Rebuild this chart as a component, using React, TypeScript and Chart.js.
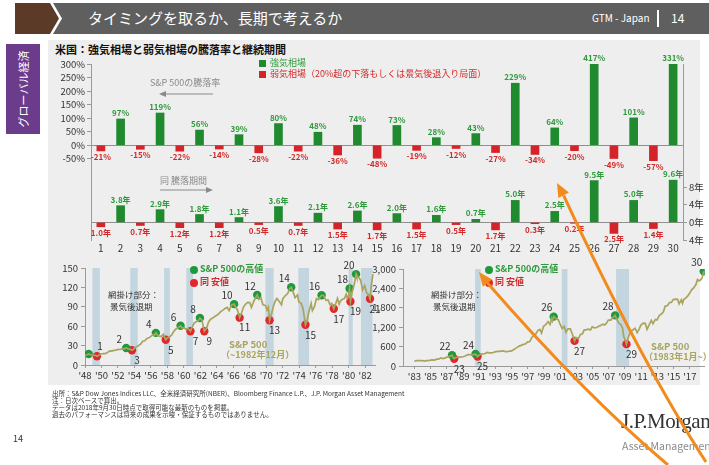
import React, { useEffect, useRef } from 'react';
import { Chart, registerables } from 'chart.js';
Chart.register(...registerables);

const FONT = '"Noto Sans CJK JP", "Noto Sans", sans-serif';
const GREEN = '#1f8a2e';
const RED = '#d4242a';
const GREEN_TXT = '#2e9a3b';
const RED_TXT = '#d22a2a';
const OLIVE = '#a9a45e';
const BAND = '#c3d5de';
const AXIS = '#9a9a9a';

// ---- Top panel data ----
const categories = ['1','2','3','4','5','6','7','8','9','10','11','12','13','14','15','16','17','18','19','20','21','22','23','24','25','26','27','28','29','30'];
const marketReturns = [-21, 97, -15, 119, -22, 56, -14, 39, -28, 80, -22, 48, -36, 74, -48, 73, -19, 28, -12, 43, -27, 229, -34, 64, -20, 417, -49, 101, -57, 331];
const marketDurations = [-1.0, 3.8, -0.7, 2.9, -1.2, 1.8, -1.2, 1.1, -0.5, 3.6, -0.7, 2.1, -1.5, 2.6, -1.7, 2.0, -1.5, 1.6, -0.5, 0.7, -1.7, 5.0, -0.3, 2.5, -0.2, 9.5, -2.5, 5.0, -1.4, 9.6];
const pctTicks = [-50, 0, 50, 100, 150, 200, 250, 300];
const yearTicks = [-4, 0, 4, 8];

// ---- Bottom panels data ----
const spx1948to1982: [number, number][] = [
  [1948.0,14.8],[1948.25,15.8],[1948.45,17.1],[1948.75,15.5],
  [1949.0,15.2],[1949.25,14.9],[1949.45,13.6],[1949.75,15.6],
  [1950.0,17.0],[1950.25,17.5],[1950.5,17.7],[1950.75,19.5],
  [1951.0,21.7],[1951.25,21.5],[1951.5,22.5],[1951.75,23.0],
  [1952.0,24.1],[1952.25,24.0],[1952.5,25.0],[1952.75,25.0],
  [1953.0,26.3],[1953.25,25.0],[1953.5,24.3],[1953.7,22.7],[1953.9,24.5],
  [1954.0,26.1],[1954.25,28.3],[1954.5,30.0],[1954.75,32.3],
  [1955.0,36.8],[1955.25,37.5],[1955.5,41.0],[1955.75,42.0],
  [1956.0,44.2],[1956.25,47.0],[1956.45,46.5],[1956.6,49.7],[1956.8,46.0],
  [1957.0,44.7],[1957.25,44.0],[1957.5,47.4],[1957.8,39.0],
  [1958.0,41.7],[1958.25,43.4],[1958.5,46.2],[1958.75,51.3],
  [1959.0,55.4],[1959.3,57.5],[1959.6,60.7],[1959.8,57.0],
  [1960.0,58.0],[1960.25,55.3],[1960.5,56.6],[1960.8,52.3],
  [1961.0,58.1],[1961.25,65.1],[1961.5,66.7],[1961.75,68.6],[1961.95,72.6],
  [1962.2,69.5],[1962.35,60.0],[1962.48,52.3],[1962.75,56.3],
  [1963.0,66.6],[1963.25,70.8],[1963.5,72.5],[1963.75,75.0],
  [1964.0,77.0],[1964.25,79.5],[1964.5,83.0],[1964.75,84.8],
  [1965.0,87.5],[1965.25,89.0],[1965.5,84.0],[1965.75,92.4],
  [1966.1,94.1],[1966.3,89.0],[1966.5,85.5],[1966.77,73.2],
  [1967.0,80.3],[1967.25,90.0],[1967.5,94.0],[1967.75,96.7],
  [1968.0,96.5],[1968.2,89.0],[1968.5,99.0],[1968.9,108.4],
  [1969.1,101.5],[1969.35,104.0],[1969.6,93.0],[1969.9,92.0],
  [1970.1,85.0],[1970.25,89.5],[1970.4,69.3],[1970.65,80.0],[1970.9,92.2],
  [1971.1,99.0],[1971.3,103.0],[1971.6,98.0],[1971.85,93.0],
  [1972.0,102.1],[1972.3,107.0],[1972.6,110.5],[1972.85,118.0],
  [1973.03,120.2],[1973.3,111.5],[1973.5,104.3],[1973.8,108.4],[1973.95,97.5],
  [1974.2,96.0],[1974.45,88.0],[1974.6,76.0],[1974.76,62.3],[1974.95,68.6],
  [1975.2,83.4],[1975.45,95.2],[1975.6,84.0],[1975.85,90.2],
  [1976.1,102.8],[1976.35,101.0],[1976.5,104.3],[1976.72,107.8],
  [1976.95,107.5],[1977.25,100.0],[1977.5,100.5],[1977.75,93.0],
  [1977.95,95.1],[1978.2,86.9],[1978.45,95.5],[1978.65,103.0],[1978.85,94.0],
  [1979.0,99.0],[1979.25,101.6],[1979.5,102.9],[1979.7,109.3],[1979.85,103.0],
  [1980.0,107.9],[1980.12,118.4],[1980.22,98.2],[1980.45,114.2],[1980.7,125.5],[1980.9,140.5],
  [1981.0,135.8],[1981.2,136.0],[1981.45,131.2],[1981.7,116.2],[1981.95,122.6],
  [1982.2,111.0],[1982.4,109.6],[1982.6,102.4],[1982.75,122.4],[1982.95,140.6]
];
const spx1983to2018: [number, number][] = [
  [1983.0,145.3],[1983.25,164.4],[1983.5,168.1],[1983.75,166.1],
  [1984.0,163.4],[1984.25,153.2],[1984.5,166.7],[1984.75,167.2],
  [1985.0,179.6],[1985.25,191.9],[1985.5,182.1],[1985.75,211.3],
  [1986.0,211.8],[1986.25,250.8],[1986.5,231.3],[1986.75,242.2],
  [1987.0,274.1],[1987.25,289.0],[1987.5,318.7],[1987.65,336.8],[1987.8,251.8],[1987.92,223.9],
  [1988.1,258.9],[1988.35,273.5],[1988.6,271.9],[1988.85,277.7],
  [1989.1,294.9],[1989.35,317.9],[1989.6,349.2],[1989.85,353.4],
  [1990.1,339.9],[1990.35,361.2],[1990.55,368.9],[1990.8,295.5],[1990.95,330.2],
  [1991.25,375.2],[1991.5,371.2],[1991.75,387.9],[1991.95,417.1],
  [1992.25,403.7],[1992.5,408.1],[1992.75,417.8],[1992.95,435.7],
  [1993.25,451.7],[1993.5,450.5],[1993.75,458.9],[1993.95,466.5],
  [1994.25,445.8],[1994.5,444.3],[1994.75,462.7],[1994.95,459.3],
  [1995.25,500.7],[1995.5,544.8],[1995.75,584.4],[1995.95,615.9],
  [1996.25,645.5],[1996.5,670.6],[1996.75,687.3],[1996.95,740.7],
  [1997.25,757.1],[1997.5,885.1],[1997.75,947.3],[1997.95,970.4],
  [1998.25,1101.8],[1998.5,1133.8],[1998.7,1017.0],[1998.95,1229.2],
  [1999.25,1286.4],[1999.5,1372.7],[1999.75,1282.7],[1999.95,1469.3],
  [2000.05,1394.5],[2000.2,1527.0],[2000.5,1454.6],[2000.75,1436.5],[2000.95,1320.3],
  [2001.25,1160.3],[2001.5,1224.4],[2001.72,1040.9],[2001.95,1148.1],
  [2002.25,1147.4],[2002.5,989.8],[2002.6,911.6],[2002.78,776.8],[2002.95,879.8],
  [2003.25,848.2],[2003.5,974.5],[2003.75,996.0],[2003.95,1111.9],
  [2004.25,1126.2],[2004.5,1140.8],[2004.75,1114.6],[2004.95,1211.9],
  [2005.25,1180.6],[2005.5,1191.3],[2005.75,1228.8],[2005.95,1248.3],
  [2006.25,1294.8],[2006.5,1270.2],[2006.75,1335.9],[2006.95,1418.3],
  [2007.25,1420.9],[2007.5,1503.4],[2007.65,1526.8],[2007.78,1565.0],[2007.95,1468.4],
  [2008.25,1322.7],[2008.5,1280.0],[2008.7,1166.4],[2008.85,903.3],
  [2009.0,825.9],[2009.18,676.5],[2009.45,919.3],[2009.7,1057.1],[2009.95,1115.1],
  [2010.25,1169.4],[2010.5,1030.7],[2010.75,1141.2],[2010.95,1257.6],
  [2011.25,1325.8],[2011.5,1320.6],[2011.72,1131.4],[2011.95,1257.6],
  [2012.25,1408.5],[2012.45,1310.0],[2012.75,1440.7],[2012.95,1426.2],
  [2013.25,1569.2],[2013.5,1606.3],[2013.75,1681.6],[2013.95,1848.4],
  [2014.25,1872.3],[2014.5,1960.2],[2014.75,1972.3],[2014.95,2058.9],
  [2015.25,2067.9],[2015.5,2063.1],[2015.68,1920.0],[2015.95,2043.9],
  [2016.1,1940.2],[2016.25,2059.7],[2016.5,2098.9],[2016.75,2168.3],[2016.95,2238.8],
  [2017.25,2362.7],[2017.5,2423.4],[2017.75,2519.4],[2017.95,2673.6],
  [2018.1,2640.9],[2018.25,2640.0],[2018.5,2718.4],[2018.72,2930.0]
];
const highsEarly: [number, number][] = [[1948.45,17.1],[1953.0,26.3],[1956.6,49.7],[1959.6,60.7],[1961.95,72.6],[1966.1,94.1],[1968.9,108.4],[1973.03,120.2],[1976.72,107.8],[1980.12,118.4],[1980.9,140.5]];
const highsEarlyLabels = ['', '2', '4', '6', '8', '10', '12', '14', '16', '18', '20'];
const lowsEarly: [number, number][] = [[1949.45,13.6],[1953.7,22.7],[1957.8,39.0],[1960.8,52.3],[1962.48,52.3],[1966.77,73.2],[1970.4,69.3],[1974.76,62.3],[1978.2,86.9],[1980.22,98.2],[1982.6,102.4]];
const lowsEarlyLabels = ['1', '3', '5', '7', '9', '11', '13', '15', '17', '19', '21'];
const highsLate: [number, number][] = [[1987.65,336.8],[1990.55,368.9],[2000.2,1527.0],[2007.78,1565.0],[2018.72,2930.0]];
const highsLateLabels = ['22', '24', '26', '28', '30'];
const lowsLate: [number, number][] = [[1987.92,223.9],[1990.8,295.5],[2002.78,776.8],[2009.18,676.5]];
const lowsLateLabels = ['23', '25', '27', '29'];
const recessionsEarly: [number, number][] = [[1948.9,1949.8],[1953.5,1954.4],[1957.6,1958.3],[1960.3,1961.1],[1969.9,1970.9],[1973.9,1975.2],[1980.0,1980.5],[1981.5,1982.9]];
const recessionsLate: [number, number][] = [[1990.5,1991.2],[2001.2,2001.9],[2007.9,2009.5]];
const yearTicksEarly = [1948,1950,1952,1954,1956,1958,1960,1962,1964,1966,1968,1970,1972,1974,1976,1978,1980,1982];
const yearTicksLate = [1983,1985,1987,1989,1991,1993,1995,1997,1999,2001,2003,2005,2007,2009,2011,2013,2015,2017];
const valueTicksEarly = [0, 30, 60, 90, 120, 150];
const valueTicksLate = [0, 600, 1200, 1800, 2400, 3000];

const footnotes = [
  '出所：S&P Dow Jones Indices LLC、全米経済研究所(NBER)、Bloomberg Finance L.P.、J.P. Morgan Asset Management',
  '注：日次ベースで算出。',
  'データは2018年9月30日時点で取得可能な最新のものを掲載。',
  '過去のパフォーマンスは将来の成果を示唆・保証するものではありません。',
];

const barLabelPlugin = {
  id: 'barLabels',
  afterDatasetsDraw(chart: any) {
    const ctx = chart.ctx;
    const area = chart.chartArea;
    chart.data.datasets.forEach((ds: any, di: number) => {
      const meta = chart.getDatasetMeta(di);
      const isPct = ds.yAxisID === 'y';
      meta.data.forEach((el: any, i: number) => {
        const v = ds.data[i];
        if (v == null) return;
        const txt = isPct ? `${v}%` : `${Math.abs(v).toFixed(1)}年`;
        ctx.save();
        ctx.font = `bold 8px ${FONT}`;
        ctx.textAlign = 'center';
        if (v >= 0) {
          ctx.fillStyle = GREEN_TXT;
          ctx.textBaseline = 'bottom';
          ctx.fillText(txt, el.x, Math.max(el.y, area.top) - 2);
        } else {
          ctx.fillStyle = RED_TXT;
          ctx.textBaseline = 'top';
          ctx.fillText(txt, el.x, el.y + 2);
        }
        ctx.restore();
      });
    });
  },
};

const zeroGrid = (c: any) => (c.tick && c.tick.value === 0 ? '#8f8f8f' : 'rgba(0,0,0,0)');

function TopChart() {
  const ref = useRef<HTMLCanvasElement>(null);
  useEffect(() => {
    const common = { grouped: false, barThickness: 8 };
    const chart = new Chart(ref.current as HTMLCanvasElement, {
      type: 'bar',
      data: {
        labels: categories,
        datasets: [
          { label: '強気相場', data: marketReturns.map(v => (v > 0 ? v : null)), backgroundColor: GREEN, yAxisID: 'y', ...common },
          { label: '弱気相場', data: marketReturns.map(v => (v < 0 ? v : null)), backgroundColor: RED, yAxisID: 'y', ...common },
          { label: '強気期間', data: marketDurations.map(v => (v > 0 ? v : null)), backgroundColor: GREEN, yAxisID: 'y2', ...common },
          { label: '弱気期間', data: marketDurations.map(v => (v < 0 ? v : null)), backgroundColor: RED, yAxisID: 'y2', ...common },
        ] as any,
      },
      options: {
        animation: false,
        responsive: false,
        maintainAspectRatio: false,
        layout: { padding: { top: 24, left: 0, right: 0, bottom: 0 } },
        plugins: { legend: { display: false }, tooltip: { enabled: false } },
        scales: {
          x: {
            grid: { display: false, drawTicks: false, tickLength: 0 },
            border: { display: false },
            ticks: { font: { family: FONT, size: 10 }, color: '#333', padding: 2, maxRotation: 0, autoSkip: false },
            afterFit: (s: any) => { s.height = 20; },
          },
          y: {
            position: 'left',
            min: -350,
            max: 300,
            afterBuildTicks: (s: any) => { s.ticks = pctTicks.map(v => ({ value: v })); },
            ticks: { callback: (v: any) => `${v}%`, font: { family: FONT, size: 9.5 }, color: '#333', padding: 2 },
            grid: { color: zeroGrid, tickColor: AXIS, tickLength: 4 },
            border: { display: true, color: AXIS },
            afterFit: (s: any) => { s.width = 43; },
          },
          y2: {
            position: 'right',
            min: -4,
            max: 36,
            afterBuildTicks: (s: any) => { s.ticks = yearTicks.map(v => ({ value: v })); },
            ticks: { callback: (v: any) => `${Math.abs(v)}年`, font: { family: FONT, size: 9.5 }, color: '#333', padding: 2 },
            grid: { color: zeroGrid, tickColor: AXIS, tickLength: 4 },
            border: { display: true, color: AXIS },
            afterFit: (s: any) => { s.width = 24; },
          },
        } as any,
      },
      plugins: [barLabelPlugin],
    });
    return () => chart.destroy();
  }, []);
  return <canvas ref={ref} width={659} height={220} style={{ position: 'absolute', left: 48, top: 40, width: 659, height: 220 }} />;
}

const bandPlugin = {
  id: 'bands',
  beforeDatasetsDraw(chart: any, _a: any, opts: any) {
    const { ctx, chartArea, scales } = chart;
    ctx.save();
    ctx.fillStyle = BAND;
    (opts.ranges || []).forEach(([s, e]: [number, number]) => {
      const x1 = scales.x.getPixelForValue(s);
      const x2 = scales.x.getPixelForValue(e);
      ctx.fillRect(x1, chartArea.top, x2 - x1, chartArea.bottom - chartArea.top);
    });
    ctx.restore();
  },
};

const dotLabelPlugin = {
  id: 'dotLabels',
  afterDatasetsDraw(chart: any, _a: any, opts: any) {
    const ctx = chart.ctx;
    ctx.save();
    ctx.font = `10px ${FONT}`;
    ctx.fillStyle = '#333';
    ctx.textAlign = 'center';
    ctx.textBaseline = 'middle';
    const hi = chart.getDatasetMeta(1);
    hi.data.forEach((el: any, i: number) => {
      const t = opts.highLabels[i];
      if (t) ctx.fillText(t, el.x - 7, el.y - 9);
    });
    const lo = chart.getDatasetMeta(2);
    lo.data.forEach((el: any, i: number) => {
      const t = opts.lowLabels[i];
      if (!t) return;
      if (t === '1') ctx.fillText(t, el.x + 3, el.y - 10);
      else ctx.fillText(t, el.x + 5, el.y + 10);
    });
    ctx.restore();
  },
};

function SpxChart(props: any) {
  const ref = useRef<HTMLCanvasElement>(null);
  useEffect(() => {
    const toXY = (a: [number, number][]) => a.map(([x, y]) => ({ x, y }));
    const chart = new Chart(ref.current as HTMLCanvasElement, {
      type: 'scatter',
      data: {
        datasets: [
          { label: 'S&P 500', data: toXY(props.series), showLine: true, borderColor: OLIVE, borderWidth: 1.7, pointRadius: 0, tension: 0 },
          { label: '高値', data: toXY(props.highs), backgroundColor: '#1e9a3c', borderWidth: 0, pointRadius: 4.2 },
          { label: '安値', data: toXY(props.lows), backgroundColor: '#e0282c', borderWidth: 0, pointRadius: 4.2 },
        ] as any,
      },
      options: {
        animation: false,
        responsive: false,
        maintainAspectRatio: false,
        layout: { padding: { top: props.padTop, right: 4, left: 0, bottom: 0 } },
        plugins: {
          legend: { display: false },
          tooltip: { enabled: false },
          bands: { ranges: props.recessions },
          dotLabels: { highLabels: props.highLabels, lowLabels: props.lowLabels },
        } as any,
        scales: {
          x: {
            type: 'linear',
            min: props.xMin,
            max: props.xMax,
            afterBuildTicks: (s: any) => { s.ticks = props.xTicks.map((v: number) => ({ value: v })); },
            ticks: { callback: (v: any) => `'${String(v).slice(2)}`, font: { family: FONT, size: 9.5 }, color: '#333', padding: 2, maxRotation: 0, autoSkip: false },
            grid: { display: true, color: 'rgba(0,0,0,0)', tickColor: AXIS, tickLength: 3 },
            border: { display: true, color: AXIS },
            afterFit: (s: any) => { s.height = props.xAxisH; },
          },
          y: {
            min: 0,
            max: props.yMax,
            afterBuildTicks: (s: any) => { s.ticks = props.yTicks.map((v: number) => ({ value: v })); },
            ticks: { callback: (v: any) => Number(v).toLocaleString('en-US'), font: { family: FONT, size: 9.5 }, color: '#333', padding: 3 },
            grid: { display: true, color: 'rgba(0,0,0,0)', tickColor: AXIS, tickLength: 4 },
            border: { display: true, color: AXIS },
            afterFit: (s: any) => { s.width = 45; },
          },
        } as any,
      },
      plugins: [bandPlugin, dotLabelPlugin],
    });
    return () => chart.destroy();
  }, []);
  return <canvas ref={ref} width={props.w} height={props.h} style={{ position: 'absolute', left: props.left, top: props.top, width: props.w, height: props.h }} />;
}

function Txt({ x, y, size, color = '#333', bold = false, children, family = FONT, extra = {} }: any) {
  return (
    <div style={{ position: 'absolute', left: x, top: y - size * 0.62, fontSize: size, lineHeight: `${size * 1.2}px`, color, fontWeight: bold ? 700 : 400, whiteSpace: 'nowrap', fontFamily: family, ...extra }}>
      {children}
    </div>
  );
}

function Legend({ x, y }: any) {
  return (
    <>
      <div style={{ position: 'absolute', left: x - 4, top: y - 4, width: 8, height: 8, borderRadius: 4, background: '#1e9a3c' }} />
      <Txt x={x + 6} y={y} size={9} color="#2e9a3b" bold>S&amp;P 500の高値</Txt>
      <div style={{ position: 'absolute', left: x - 4, top: y + 9, width: 8, height: 8, borderRadius: 4, background: '#e0282c' }} />
      <Txt x={x + 6} y={y + 13} size={9} color="#d22a2a" bold>同 安値</Txt>
    </>
  );
}

export default function App() {
  return (
    <div style={{ position: 'fixed', left: 0, top: 0, width: 709, height: 465, background: '#ffffff', overflow: 'hidden', fontFamily: FONT }}>
      {/* header */}
      <svg width={709} height={40} style={{ position: 'absolute', left: 0, top: 0 }}>
        <polygon points="53,3 709,3 709,34 53,34 62,18.5" fill="#5f5f5f" />
        <polygon points="15,3 50,3 59,18.5 50,34 15,34" fill="#5b3a27" />
      </svg>
      <Txt x={88} y={18} size={15} color="#ffffff">タイミングを取るか、長期で考えるか</Txt>
      <Txt x={592} y={18} size={10} color="#ffffff">GTM - Japan</Txt>
      <div style={{ position: 'absolute', left: 657, top: 10, width: 1.5, height: 17, background: '#ffffff' }} />
      <Txt x={671} y={18} size={12} color="#ffffff">14</Txt>

      {/* side tab */}
      <div style={{ position: 'absolute', left: 6, top: 44, width: 34, height: 90, background: '#6b3c8c' }} />
      <div style={{ position: 'absolute', left: 23, top: 89, transform: 'translate(-50%,-50%) rotate(-90deg)', color: '#fff', fontSize: 11, whiteSpace: 'nowrap', lineHeight: '12px' }}>グローバル経済</div>

      {/* panel */}
      <div style={{ position: 'absolute', left: 48, top: 40, width: 652, height: 345, background: '#eeeeee' }} />
      <Txt x={55} y={50} size={11} color="#111" bold>米国：強気相場と弱気相場の騰落率と継続期間</Txt>

      <TopChart />

      {/* top legend */}
      <div style={{ position: 'absolute', left: 259, top: 60, width: 7, height: 7, background: GREEN }} />
      <Txt x={270} y={64} size={9} color={GREEN_TXT}>強気相場</Txt>
      <div style={{ position: 'absolute', left: 259, top: 71, width: 7, height: 7, background: RED }} />
      <Txt x={270} y={75} size={9} color={RED_TXT}>弱気相場（20%超の下落もしくは景気後退入り局面）</Txt>

      <Txt x={150} y={84} size={9} color="#8a8a8a">S&amp;P 500の騰落率</Txt>
      <Txt x={160} y={182} size={9} color="#8a8a8a">同 騰落期間</Txt>
      <svg width={709} height={465} style={{ position: 'absolute', left: 0, top: 0, pointerEvents: 'none' }}>
        <line x1={213} y1={94} x2={165} y2={94} stroke="#8a8a8a" strokeWidth={1.2} />
        <polygon points="159,94 166,91 166,97" fill="#8a8a8a" />
        <line x1={160} y1={190} x2={207} y2={190} stroke="#8a8a8a" strokeWidth={1.2} />
        <polygon points="213,190 206,187 206,193" fill="#8a8a8a" />
      </svg>

      <SpxChart left={40} top={258} w={340} h={127} padTop={10} xAxisH={20}
        series={spx1948to1982} highs={highsEarly} lows={lowsEarly} highLabels={highsEarlyLabels} lowLabels={lowsEarlyLabels}
        recessions={recessionsEarly} xMin={1948} xMax={1983.3} xTicks={yearTicksEarly} yMax={150} yTicks={valueTicksEarly} />
      <SpxChart left={358} top={258} w={351} h={127} padTop={11} xAxisH={19}
        series={spx1983to2018} highs={highsLate} lows={lowsLate} highLabels={highsLateLabels} lowLabels={lowsLateLabels}
        recessions={recessionsLate} xMin={1981.6} xMax={2018.85} xTicks={yearTicksLate} yMax={3000} yTicks={valueTicksLate} />

      <Legend x={194} y={270} />
      <Txt x={108} y={294} size={8.5} color="#333">網掛け部分：</Txt>
      <Txt x={110} y={306} size={8.5} color="#333">景気後退期</Txt>
      <Txt x={229} y={345} size={9.5} color={OLIVE} bold>S&amp;P 500</Txt>
      <Txt x={221} y={356} size={9} color={OLIVE} bold>（~1982年12月）</Txt>

      <Legend x={489} y={270} />
      <Txt x={431} y={294} size={8.5} color="#333">網掛け部分：</Txt>
      <Txt x={433} y={306} size={8.5} color="#333">景気後退期</Txt>
      <Txt x={651} y={347} size={9.5} color={OLIVE} bold>S&amp;P 500</Txt>
      <Txt x={644} y={358} size={9} color={OLIVE} bold>（1983年1月~）</Txt>

      {/* footer */}
      {footnotes.map((t, i) => (
        <Txt key={i} x={52} y={394 + i * 7} size={6.5} color="#333">{t}</Txt>
      ))}
      <Txt x={13} y={440} size={9} color="#333">14</Txt>
      <Txt x={621} y={422} size={21} color="#333" family='"Liberation Serif", "DejaVu Serif", serif' extra={{ letterSpacing: '-0.5px' }}>J.P.Morgan</Txt>
      <Txt x={622} y={447} size={10.5} color="#8a8a8a">Asset Management</Txt>

      {/* orange annotation arrows */}
      <svg width={709} height={465} style={{ position: 'absolute', left: 0, top: 0, pointerEvents: 'none' }}>
        <path d="M 668 465 Q 585 395 487.5 283" stroke="#f28a1c" strokeWidth={3} fill="none" />
        <polygon points="479,272 492.2,279.4 482.8,286.8" fill="#f28a1c" />
        <path d="M 706 462 Q 640 360 563.6 195.3" stroke="#f28a1c" strokeWidth={3} fill="none" />
        <polygon points="557,183 568.9,192.5 558.3,198.1" fill="#f28a1c" />
      </svg>
    </div>
  );
}
